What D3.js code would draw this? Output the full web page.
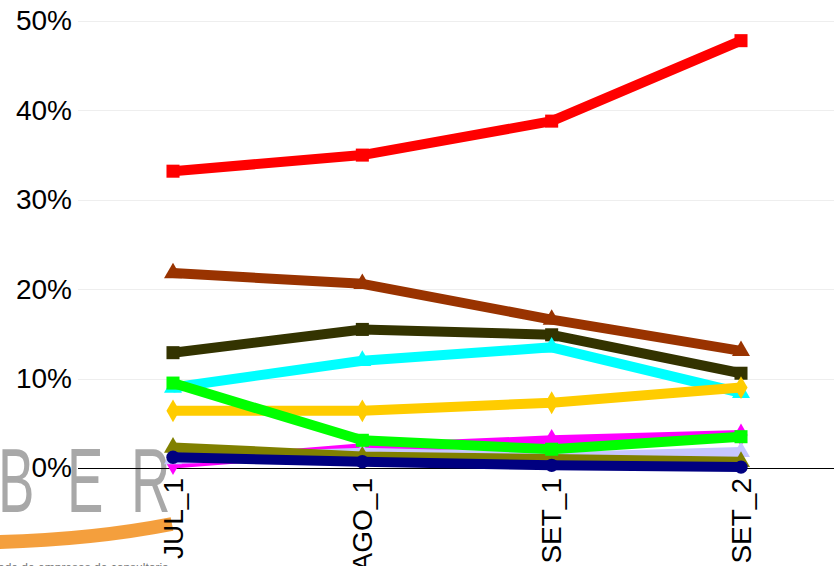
<!DOCTYPE html>
<html>
<head>
<meta charset="utf-8">
<script src="https://cdn.jsdelivr.net/npm/d3@7"></script>
<style>
  html, body { margin: 0; padding: 0; background: #fff; overflow: hidden; }
  svg { display: block; font-family: "Liberation Sans", Arial, sans-serif; }
</style>
</head>
<body>
<svg id="chart" width="834" height="566"></svg>
<script>
// ---- data ----
const categories = ["JUL_1", "AGO_1", "SET_1", "SET_2"];
const yTicks = [0, 0.1, 0.2, 0.3, 0.4, 0.5];
const yTickLabels = ["0%", "10%", "20%", "30%", "40%", "50%"];

const seriesNames = ["S1", "S2", "S3", "S4", "S5", "S6", "S7", "S8", "S9", "S10"];
const s1 = [0.332, 0.350, 0.388, 0.478];
const s2 = [0.218, 0.206, 0.166, 0.131];
const s3 = [0.129, 0.155, 0.149, 0.106];
const s4 = [0.090, 0.120, 0.135, 0.084];
const s5 = [0.064, 0.064, 0.073, 0.090];
const s6 = [0.005, 0.022, 0.031, 0.037];
const s7 = [0.010, 0.017, 0.012, 0.018];
const s8 = [0.023, 0.013, 0.010, 0.007];
const s9 = [0.095, 0.031, 0.021, 0.035];
const s10 = [0.012, 0.007, 0.003, 0.001];
const seriesValues = [s1, s2, s3, s4, s5, s6, s7, s8, s9, s10];
const seriesColors = ["#FF0000", "#993300", "#333300", "#00FFFF", "#FFCC00", "#FF00FF", "#C6C6FF", "#808000", "#00FF00", "#000080"];
const seriesMarkers = ["square", "triangle", "square", "triangle", "diamond", "diamond", "triangle", "triangle", "square", "circle"];

// ---- layout ----
const svg = d3.select("#chart");
const x = d3.scalePoint().domain(categories).range([173, 741]);
const y = d3.scaleLinear().domain([0, 0.5]).range([468, 21]);
const plotLeft = 78, plotRight = 834;

// logo watermark (bottom-left)
const logo = svg.append("g").attr("class", "logo");
const logoLetters = [{t: "B", x: -2}, {t: "E", x: 67}, {t: "R", x: 131}];
logo.selectAll("text.logo-letter").data(logoLetters).join("text")
  .attr("class", "logo-letter")
  .attr("transform", d => `translate(${d.x},512) scale(0.6,1)`)
  .attr("font-size", 91)
  .attr("font-family", "'Liberation Sans', Arial, sans-serif")
  .attr("fill", "#9a9a9a")
  .attr("opacity", 0.85)
  .text(d => d.t);
logo.append("path")
  .attr("d", "M-5,542 Q90,540 172,524")
  .attr("fill", "none")
  .attr("stroke", "#F39A33")
  .attr("stroke-width", 14)
  .attr("opacity", 0.95);
logo.append("text")
  .attr("x", -6).attr("y", 572)
  .attr("font-size", 12)
  .attr("fill", "#777")
  .text("rede de empresas de consultoria");

// gridlines
svg.append("g").selectAll("line").data(yTicks.filter(d => d > 0)).join("line")
  .attr("x1", plotLeft).attr("x2", plotRight)
  .attr("y1", d => Math.round(y(d)) + 0.5).attr("y2", d => Math.round(y(d)) + 0.5)
  .attr("stroke", "#eeeeee").attr("stroke-width", 1);

// zero line
svg.append("line")
  .attr("x1", plotLeft).attr("x2", plotRight)
  .attr("y1", y(0) + 0.5).attr("y2", y(0) + 0.5)
  .attr("stroke", "#000").attr("stroke-width", 1);

// y axis labels
const yAxis = d3.axisLeft(y).tickValues(yTicks).tickFormat((d, i) => yTickLabels[i]).tickSize(0).tickPadding(0);
const yg = svg.append("g").attr("transform", "translate(72,0)").call(yAxis);
yg.select(".domain").remove();
yg.selectAll("text").attr("font-size", 28).attr("fill", "#000")
  .attr("font-family", "'Liberation Sans', Arial, sans-serif");

// series
const line = d3.line().x((d, i) => x(categories[i])).y(d => y(d));
const symbolTypes = { square: d3.symbolSquare, triangle: d3.symbolTriangle, diamond: d3.symbolDiamond, circle: d3.symbolCircle };
const symbolSizes = { square: 170, triangle: 140, diamond: 150, circle: 140 };

seriesValues.forEach((vals, si) => {
  const g = svg.append("g").attr("class", "series-" + seriesNames[si]);
  g.append("path")
    .attr("d", line(vals))
    .attr("fill", "none")
    .attr("stroke", seriesColors[si])
    .attr("stroke-width", 10)
    .attr("stroke-linejoin", "round");
  g.selectAll("path.mk").data(vals).join("path")
    .attr("class", "mk")
    .attr("transform", (d, i) => `translate(${x(categories[i])},${y(d)})`)
    .attr("d", d3.symbol().type(symbolTypes[seriesMarkers[si]]).size(symbolSizes[seriesMarkers[si]]))
    .attr("fill", seriesColors[si]);
});

// x axis labels (rotated)
svg.append("g").selectAll("text").data(categories).join("text")
  .attr("transform", d => `translate(${x(d)},478) rotate(-90)`)
  .attr("text-anchor", "end")
  .attr("dy", "0.35em")
  .attr("font-size", 28)
  .attr("fill", "#000")
  .text(d => d);
</script>
</body>
</html>
